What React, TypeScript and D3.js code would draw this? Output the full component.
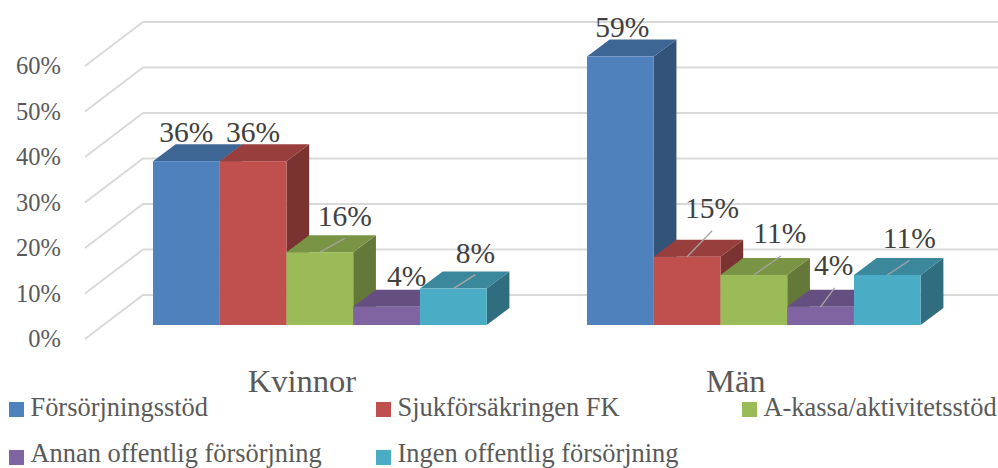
import React from "react";
import * as d3 from "d3";

const categories = ["Kvinnor", "Män"];
const seriesNames = ["Försörjningsstöd", "Sjukförsäkringen FK", "A-kassa/aktivitetsstöd", "Annan offentlig försörjning", "Ingen offentlig försörjning"];
const seriesColors = ["#4F81BD", "#C0504D", "#9BBB59", "#8064A2", "#4BACC6"];
const kvinnor = [36, 36, 16, 4, 8];
const man = [59, 15, 11, 4, 11];
const values = [kvinnor, man];
const yTicks = [0, 10, 20, 30, 40, 50, 60];

// label placement relative to the top centre of each bar's front face
const labelDx = [[0, 0, 25, 20, 22], [2, 25, 26, 13, 22]];
const labelDy = [[-19.5, -19.5, -26, -21, -26], [-20, -39, -32, -32, -27]];
const leaderEnd = [[null, null, [25, -14], null, [22, -14]], [null, [25, -26], [27, -19], [14, -19], [22, -14.5]]];

const W = 998, H = 468;
const FONT = "'Liberation Serif', serif";
const y = d3.scaleLinear().domain([0, 60]).range([325, 52]);
const x0 = d3.scaleBand<string>().domain(categories).range([102.85, 970.85]).paddingInner(0.2311).paddingOuter(0.11555);
const x1 = d3.scaleBand<number>().domain(d3.range(5)).range([0, x0.bandwidth()]);
const depthX = 22.7, depthY = -17;
const wallBack = -30, wallFront = 14;

const shade = (c: string, k: number) => {
  const r = d3.rgb(c);
  return d3.rgb(r.r * k, r.g * k, r.b * k).formatHex();
};
const poly = (pts: number[][]) => (d3.line()(pts as [number, number][]) as string) + "Z";

const legendX = [9, 376, 742];

export default function App() {
  return (
    <svg width={W} height={H} style={{ position: "absolute", left: 0, top: 0, background: "#fff", fontFamily: FONT }}>
      {yTicks.map((t) => {
        const yb = y(t) + wallBack;
        return (
          <g key={t}>
            <path d={`M85,${y(t) + wallFront}L143,${yb}L${W},${yb}`} fill="none" stroke="#D9D9D9" strokeWidth={2} />
            <text x={61} y={y(t) + 22} textAnchor="end" fontSize={24.5} fill="#595959">{t}%</text>
          </g>
        );
      })}
      {categories.map((cat, ci) => (
        <g key={cat}>
          {values[ci].map((v, si) => {
            const x = x0(cat)! + x1(si)!;
            const w = x1.bandwidth();
            const top = y(v), base = y(0);
            const c = seriesColors[si];
            return (
              <g key={si}>
                <path d={poly([[x + w, top], [x + w + depthX, top + depthY], [x + w + depthX, base + depthY], [x + w, base]])} fill={shade(c, 0.64)} />
                <path d={poly([[x, top], [x + depthX, top + depthY], [x + w + depthX, top + depthY], [x + w, top]])} fill={shade(c, 0.79)} />
                <rect x={x} y={top} width={w} height={base - top} fill={c} />
              </g>
            );
          })}
          {values[ci].map((v, si) => {
            const cx = x0(cat)! + x1(si)! + x1.bandwidth() / 2;
            const top = y(v);
            const le = leaderEnd[ci][si];
            return (
              <g key={si}>
                {le && <line x1={cx} y1={top} x2={cx + le[0]} y2={top + le[1]} stroke="#A6A6A6" strokeWidth={1.3} />}
                <text x={cx + labelDx[ci][si]} y={top + labelDy[ci][si]} textAnchor="middle" fontSize={29.5} fill="#404040">{v}%</text>
              </g>
            );
          })}
          <text x={x0(cat)! + x0.bandwidth() / 2 - 18} y={392} textAnchor="middle" fontSize={32.5} fill="#595959">{cat}</text>
        </g>
      ))}
      {seriesNames.map((s, i) => {
        const col = i % 3, row = Math.floor(i / 3);
        const yy = 402 + row * 48;
        return (
          <g key={s}>
            <rect x={legendX[col]} y={yy} width={15} height={15} fill={seriesColors[i]} />
            <text x={legendX[col] + 21.5} y={row === 0 ? yy + 14 : yy + 11.5} fontSize={26.4} fill="#595959">{s}</text>
          </g>
        );
      })}
    </svg>
  );
}
